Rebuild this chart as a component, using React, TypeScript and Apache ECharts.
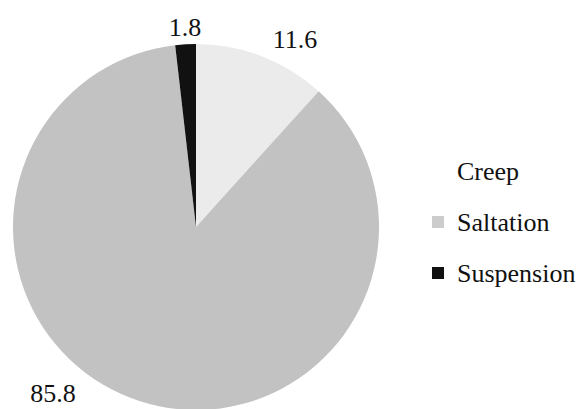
import React, { useEffect, useRef } from "react";
import * as echarts from "echarts";

// Share of transport mode (%)
const modes = ["Creep", "Saltation", "Suspension"];
const shares = [11.6, 85.8, 1.8];
const sliceColors = ["#ebebeb", "#c2c2c2", "#111111"];
const legendColors = ["#ffffff", "#cccccc", "#111111"];
// Where each value label sits (x, y) in the canvas
const labelSpots: [number, number][] = [
  [295, 39],
  [53, 393],
  [185, 27],
];

const FONT = "'Times New Roman', Times, 'Liberation Serif', serif";

export default function App() {
  const ref = useRef<HTMLDivElement>(null);

  useEffect(() => {
    if (!ref.current) return;
    const chart = echarts.init(ref.current, undefined, { renderer: "svg" });
    chart.setOption({
      animation: false,
      backgroundColor: "#ffffff",
      textStyle: { fontFamily: FONT },
      legend: {
        orient: "vertical",
        left: 427,
        top: 153,
        itemWidth: 12,
        itemHeight: 12,
        itemGap: 25,
        icon: "rect",
        textStyle: {
          fontFamily: FONT,
          fontSize: 26,
          color: "#111",
          padding: [0, 0, 0, 8],
        },
        data: modes.map((m, i) => ({
          name: m,
          itemStyle: { color: legendColors[i] },
        })),
      },
      series: [
        {
          type: "pie",
          center: [196, 227],
          radius: 183,
          startAngle: 90,
          clockwise: true,
          silent: true,
          label: {
            show: true,
            position: "outside",
            formatter: (p: any) => String(p.value),
            fontFamily: FONT,
            fontSize: 26,
            color: "#111",
          },
          labelLine: { show: false },
          labelLayout: (p: any) => ({
            x: labelSpots[p.dataIndex][0],
            y: labelSpots[p.dataIndex][1],
            align: "center",
            verticalAlign: "middle",
          }),
          data: modes.map((m, i) => ({
            name: m,
            value: shares[i],
            itemStyle: { color: sliceColors[i] },
          })),
        },
      ],
    });
    return () => chart.dispose();
  }, []);

  return (
    <div
      ref={ref}
      style={{ position: "fixed", left: 0, top: 0, width: 578, height: 409 }}
    />
  );
}
